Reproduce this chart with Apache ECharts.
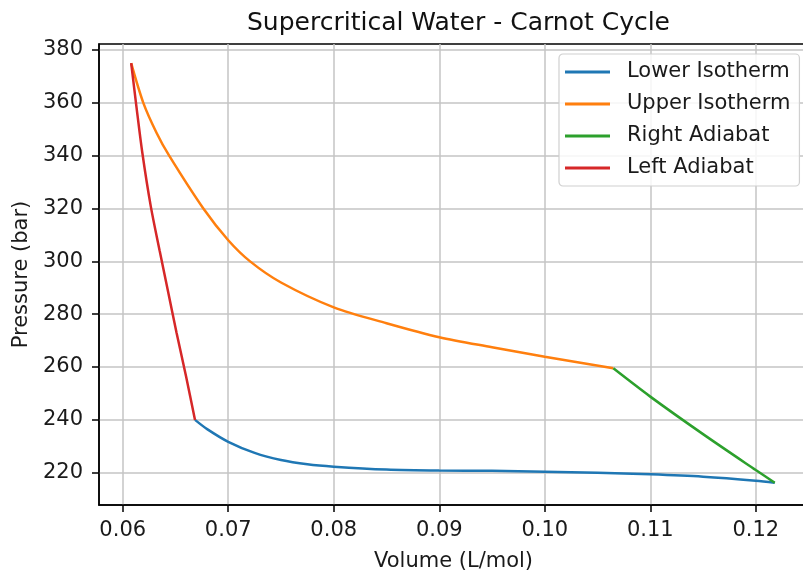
<!DOCTYPE html>
<html>
<head>
<meta charset="utf-8">
<script src="https://cdn.jsdelivr.net/npm/echarts@6/dist/echarts.min.js"></script>
<style>
  html, body { margin: 0; padding: 0; background: #fff; }
  #chart { width: 803px; height: 572px; }
</style>
</head>
<body>
<div id="chart"></div>
<script>
  // values
  let seriesNames = ['Lower Isotherm', 'Upper Isotherm', 'Right Adiabat', 'Left Adiabat']
  let xTicks = [0.06, 0.07, 0.08, 0.09, 0.10, 0.11, 0.12]
  let yTicks = [220, 240, 260, 280, 300, 320, 340, 360, 380]

  let lowerIsotherm = [
    [0.06685, 240], [0.068, 236.5], [0.070, 231.7], [0.0725, 227.5], [0.075, 224.8],
    [0.0775, 223.2], [0.080, 222.3], [0.085, 221.2], [0.090, 220.8], [0.095, 220.7],
    [0.100, 220.4], [0.105, 220.0], [0.110, 219.4], [0.115, 218.5], [0.120, 217.0], [0.1218, 216.2]
  ]
  let upperIsotherm = [
    [0.0608, 375], [0.06195, 360], [0.0632, 348.7], [0.0644, 340], [0.06764, 320],
    [0.0700, 308], [0.07207, 300], [0.075, 292], [0.080, 282.6], [0.085, 276.6],
    [0.090, 271.3], [0.095, 267.5], [0.100, 263.9], [0.1065, 259.5]
  ]
  let rightAdiabat = [
    [0.1065, 259.5], [0.110, 248.8], [0.115, 234.6], [0.120, 221], [0.1218, 216.2]
  ]
  let leftAdiabat = [
    [0.0608, 375], [0.0613, 358.5], [0.06186, 341], [0.06265, 321], [0.0635, 304],
    [0.0643, 288.5], [0.0651, 273], [0.0660, 256.5], [0.06685, 240]
  ]

  let colors = ['#1f77b4', '#ff7f0e', '#2ca02c', '#d62728']
  let fontFamily = 'DejaVu Sans'

  let elChart = echarts.init(document.getElementById('chart'))

  let lineSeries = function (name, data) {
    return {
      name: name,
      type: 'line',
      data: data,
      showSymbol: false,
      smooth: 0.3,
      lineStyle: { width: 2.5 },
      emphasis: { disabled: true }
    }
  }

  let optionData = {
    animation: false,
    color: colors,
    textStyle: { fontFamily: fontFamily },
    title: {
      text: 'Supercritical Water - Carnot Cycle',
      left: 453.5,
      textAlign: 'center',
      top: 6,
      textStyle: { fontFamily: fontFamily, fontSize: 25, fontWeight: 'normal', color: '#111' }
    },
    grid: {
      left: 99,
      top: 44,
      width: 709,
      height: 461,
      outerBoundsMode: 'none',
      containLabel: false,
      show: true,
      borderColor: '#000',
      borderWidth: 1.5,
      backgroundColor: 'transparent'
    },
    legend: {
      data: seriesNames,
      orient: 'vertical',
      left: 559,
      top: 54,
      padding: [7, 9, 7, 6],
      itemGap: 10,
      itemWidth: 45,
      itemHeight: 3,
      icon: 'rect',
      backgroundColor: 'rgba(255,255,255,0.85)',
      borderColor: '#d0d0d0',
      borderWidth: 1.2,
      borderRadius: 4,
      textStyle: { fontFamily: fontFamily, fontSize: 21, lineHeight: 22, color: '#1a1a1a', padding: [0, 0, 0, 12] }
    },
    xAxis: {
      type: 'value',
      min: 0.05775,
      max: 0.12495,
      name: 'Volume (L/mol)',
      nameLocation: 'middle',
      nameGap: 46,
      nameTextStyle: { fontFamily: fontFamily, fontSize: 21, color: '#1a1a1a' },
      axisLine: { show: true, onZero: false, lineStyle: { color: '#000', width: 1.5 } },
      axisTick: { show: true, length: 7, lineStyle: { color: '#000', width: 1.5 }, customValues: xTicks },
      axisLabel: {
        fontFamily: fontFamily, fontSize: 21, color: '#1a1a1a', margin: 15,
        customValues: xTicks,
        formatter: function (v) { return v.toFixed(2) }
      },
      splitLine: { show: true, lineStyle: { color: '#c4c4c4', width: 1.5 } }
    },
    yAxis: {
      type: 'value',
      min: 207.78,
      max: 382.27,
      name: 'Pressure (bar)',
      nameLocation: 'middle',
      nameGap: 62,
      nameRotate: 90,
      nameTextStyle: { fontFamily: fontFamily, fontSize: 21, color: '#1a1a1a' },
      axisLine: { show: true, onZero: false, lineStyle: { color: '#000', width: 1.5 } },
      axisTick: { show: true, length: 7, lineStyle: { color: '#000', width: 1.5 }, customValues: yTicks },
      axisLabel: {
        fontFamily: fontFamily, fontSize: 21, color: '#1a1a1a', margin: 16,
        customValues: yTicks,
        formatter: function (v) { return String(Math.round(v)) }
      },
      splitLine: { show: true, lineStyle: { color: '#c4c4c4', width: 1.5 } }
    },
    series: [
      lineSeries(seriesNames[0], lowerIsotherm),
      lineSeries(seriesNames[1], upperIsotherm),
      lineSeries(seriesNames[2], rightAdiabat),
      lineSeries(seriesNames[3], leftAdiabat)
    ]
  }

  elChart.setOption(optionData)
</script>
</body>
</html>
